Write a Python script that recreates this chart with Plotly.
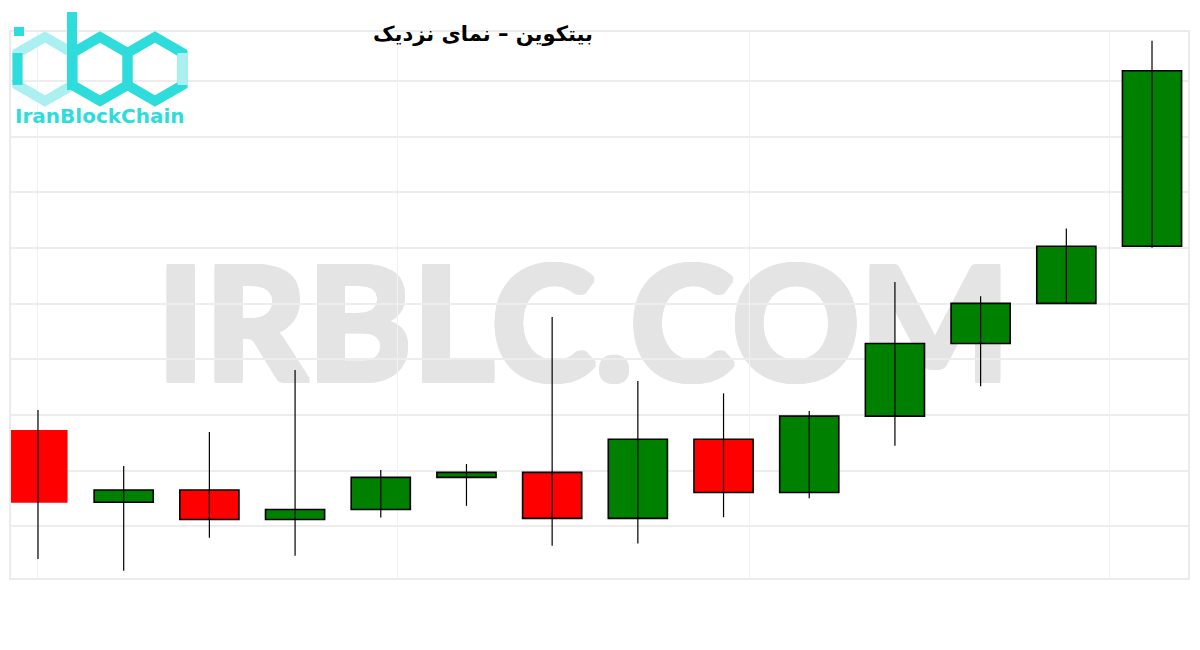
import plotly.graph_objects as go

# ---- data ----
days = ["روز ۱", "روز ۲", "روز ۳", "روز ۴", "روز ۵", "روز ۶", "روز ۷",
        "روز ۸", "روز ۹", "روز ۱۰", "روز ۱۱", "روز ۱۲", "روز ۱۳", "روز ۱۴"]
opens = [61730, 60435, 60655, 60125, 60305, 60880, 60970,
         60145, 61565, 60610, 61980, 63285, 64005, 65030]
closes = [60425, 60655, 60125, 60305, 60880, 60970, 60145,
          61565, 60610, 61980, 63285, 64005, 65030, 68180]
highs = [62090, 61085, 61695, 62810, 61015, 61120, 63760,
         62610, 62390, 62070, 64390, 64130, 65350, 68720]
lows = [59415, 59205, 59795, 59475, 60160, 60370, 59655,
        59695, 60165, 60505, 61450, 62515, 64005, 65005]
grid_x = [0, 4.2, 8.3, 12.5]

title_text = "بیتکوین – نمای نزدیک"
watermark = "IRBLC.COM"
logo_text = "IranBlockChain"

UP = "#008000"
DOWN = "#ff0000"
CYAN = "#2fdcdc"
LIGHT = "#aaf0f0"
WM = "#e4e4e4"

OFF = 8  # page body margin
W, H = 1184, 634
ML, MR, MT, MB = 3, 4, 24, 64
PW, PH = W - ML - MR, H - MT - MB


def P(px, py):
    """page pixel -> paper coordinates"""
    return (px - OFF - ML) / PW, (H - MB - (py - OFF)) / PH


idx = list(range(len(days)))
body_base = [min(o, c) for o, c in zip(opens, closes)]
body_len = [abs(c - o) for o, c in zip(opens, closes)]
body_col = [UP if c >= o else DOWN for o, c in zip(opens, closes)]
line_w = [0 if i == 0 else 1.6 for i in idx]

wx, wy = [], []
for i, lo, hi in zip(idx, lows, highs):
    wx += [i, i, None]
    wy += [lo, hi, None]

fig = go.Figure()
fig.add_trace(go.Bar(
    x=idx, y=body_len, base=body_base, width=0.69,
    marker=dict(color=body_col, line=dict(color="black", width=line_w)),
    hoverinfo="skip", showlegend=False,
))
fig.add_trace(go.Scatter(
    x=wx, y=wy, mode="lines", line=dict(color="black", width=1.2),
    hoverinfo="skip", showlegend=False,
))

shapes = []
# watermark behind traces
x0, y0 = P(150, 248)
x1, y1 = P(1017, 388)
shadow = ", ".join(f"{dx}px {dy}px 0 {WM}" for dx, dy in
                   [(2, 0), (-2, 0), (0, 2), (0, -2), (2, 2), (-2, -2), (2, -2), (-2, 2)])
shapes.append(dict(
    type="rect", xref="paper", yref="paper", x0=x0, y0=y1, x1=x1, y1=y0,
    line=dict(width=0), fillcolor="rgba(0,0,0,0)", layer="below",
    label=dict(text=watermark, textposition="middle center",
               font=dict(size=158, color=WM, family="Lato", weight=900,
                         shadow=shadow)),
))


# logo: hexagons
def seg(p, q, color, width=10):
    a, b = P(*p), P(*q)
    return dict(type="line", xref="paper", yref="paper",
                x0=a[0], y0=a[1], x1=b[0], y1=b[1],
                line=dict(color=color, width=width), layer="above")


def hex_pts(cx):
    w = 27.5
    top, m1, m2, bot = 37, 53, 85, 101
    return [(cx, top), (cx + w, m1), (cx + w, m2), (cx, bot), (cx - w, m2), (cx - w, m1)]


def hex_path(cx, color):
    pts = [P(*p) for p in hex_pts(cx)]
    d = "M " + " L ".join(f"{x:.5f},{y:.5f}" for x, y in pts) + " Z"
    return dict(type="path", xref="paper", yref="paper", path=d,
                line=dict(color=color, width=10), layer="above")


shapes.append(hex_path(45, LIGHT))
shapes.append(hex_path(155, CYAN))
shapes.append(hex_path(100, CYAN))
lp = hex_pts(45)
shapes.append(seg(lp[4], lp[5], CYAN))
rp = hex_pts(155)
shapes.append(seg(rp[1], rp[2], LIGHT))
shapes.append(seg((72, 12), (72, 90), CYAN, 10))
a, b = P(14, 27), P(24, 36)
shapes.append(dict(type="rect", xref="paper", yref="paper",
                   x0=a[0], y0=b[1], x1=b[0], y1=a[1],
                   fillcolor=CYAN, line=dict(width=0), layer="above"))

lx, ly = P(100, 116)
annotations = [
    dict(text=logo_text, xref="paper", yref="paper", x=lx, y=ly,
         xanchor="center", yanchor="middle", showarrow=False,
         font=dict(family="DejaVu Sans", size=20, color=CYAN, weight="bold")),
]

fig.update_layout(
    width=W, height=H,
    margin=dict(l=ML, r=MR, t=MT, b=MB),
    paper_bgcolor="white", plot_bgcolor="white",
    title=dict(text=title_text, x=(483 - OFF) / W, y=1 - (34 - OFF) / H,
               xref="container", yref="container", xanchor="center",
               yanchor="middle",
               font=dict(family="DejaVu Sans", size=21, color="black", weight="bold")),
    barmode="overlay",
    shapes=shapes, annotations=annotations,
    xaxis=dict(range=[-0.315, 13.42], tickvals=grid_x, showticklabels=False,
               showgrid=True, gridcolor="#f1f1f1", gridwidth=1, zeroline=False,
               showline=True, mirror=True, linecolor="#ebebeb", linewidth=2,
               ticks=""),
    yaxis=dict(range=[59074, 68876], tick0=61000, dtick=1000,
               showticklabels=False, showgrid=True, gridcolor="#ededed",
               gridwidth=1.5, zeroline=False, showline=True, mirror=True,
               linecolor="#ebebeb", linewidth=2, ticks=""),
)

fig.write_html("out.html")
